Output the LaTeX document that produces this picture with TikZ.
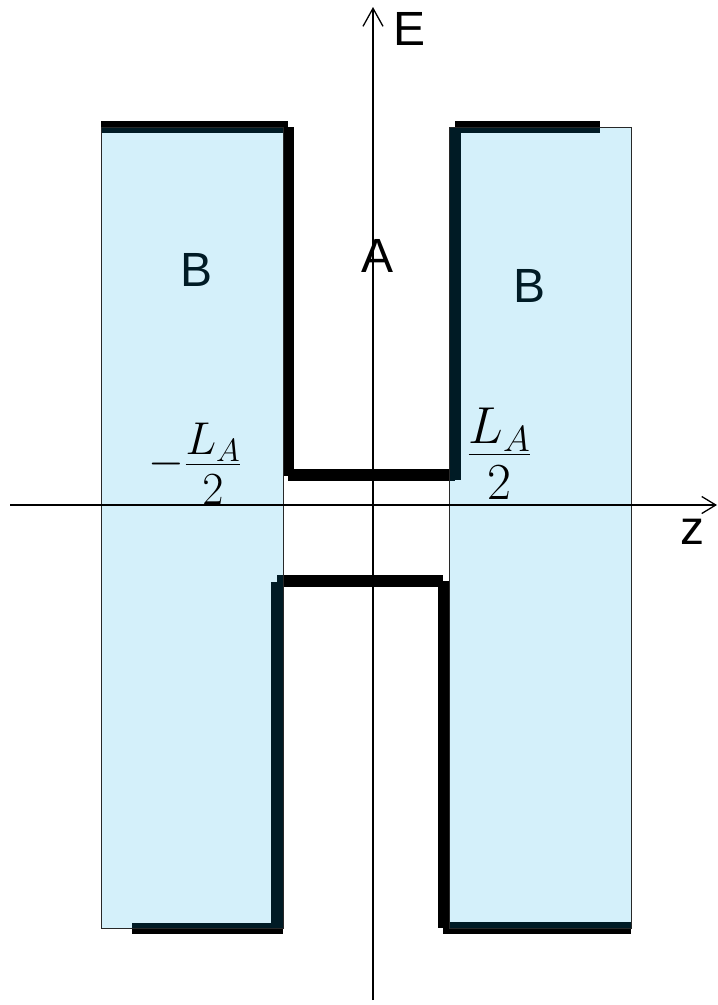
\RequirePackage{fix-cm}
\documentclass[tikz,border=0pt]{standalone}
\usepackage{fontspec}
\setmainfont{Liberation Sans}
\usetikzlibrary{arrows.meta}
\definecolor{bfill}{RGB}{0,165,224}
\definecolor{edgegrey}{RGB}{40,40,40}
\tikzset{
  thickwall/.style={line width=11.5pt, black, line cap=butt},
  region/.style={fill=bfill, fill opacity=0.17, draw=edgegrey, draw opacity=1, line width=1pt},
  axisline/.style={line width=1.3pt, black},
  sanslabel/.style={inner sep=0pt, font=\fontsize{48}{52}\selectfont},
  mathlabel/.style={inner sep=0pt},
}
\begin{document}
\begin{tikzpicture}[x=1pt,y=-1pt]
\useasboundingbox (0,0) rectangle (718,1005);
% thick walls
\draw[thickwall] (101,127) -- (288,127);
\draw[thickwall] (288.5,127) -- (288.5,476);
\draw[thickwall] (288,475) -- (455,475);
\draw[thickwall] (455,127) -- (455,480);
\draw[thickwall] (455,127) -- (600,127);
\draw[thickwall] (277,581) -- (443,581);
\draw[thickwall] (277,582) -- (277,934);
\draw[thickwall] (443.5,581) -- (443.5,928);
\draw[thickwall] (132,928.5) -- (277,928.5);
\draw[thickwall] (443,928) -- (631,928);
% labels B (under the tinted regions)
\node[sanslabel] (bl) at (197,270) {B};
\node[sanslabel] (br) at (529.5,285.5) {B};
% regions
\draw[region] (101,127) rectangle (283,928);
\draw[region] (449,127) rectangle (631,928);
% axes
\coordinate (zs) at (10,505);
\coordinate (ze) at (717,505);
\coordinate (es) at (373,1000);
\coordinate (ee) at (373,7);
\draw[axisline, -{Straight Barb[length=14pt,width=17pt,line width=1.3pt]}] (zs) -- (ze);
\draw[axisline, -{Straight Barb[length=18pt,width=20pt,line width=1.3pt]}] (es) -- (ee);
% labels
\node[sanslabel] (la) at (378,256) {A};
\node[sanslabel] (le) at (409.5,29) {E};
\node[sanslabel] (lz) at (692.5,532) {z};
\node[mathlabel, font=\fontsize{46}{50}\selectfont] (lm) at (195,464)
  {$-\frac{\displaystyle L_A\rule[-0.18em]{0pt}{0pt}}{\displaystyle\rule{0pt}{0.87em}2}$};
\node[mathlabel, font=\fontsize{52}{56}\selectfont] (lp) at (499.5,454)
  {$\frac{\displaystyle L_A\rule[-0.18em]{0pt}{0pt}}{\displaystyle\rule{0pt}{0.87em}2}$};
\end{tikzpicture}
\end{document}
